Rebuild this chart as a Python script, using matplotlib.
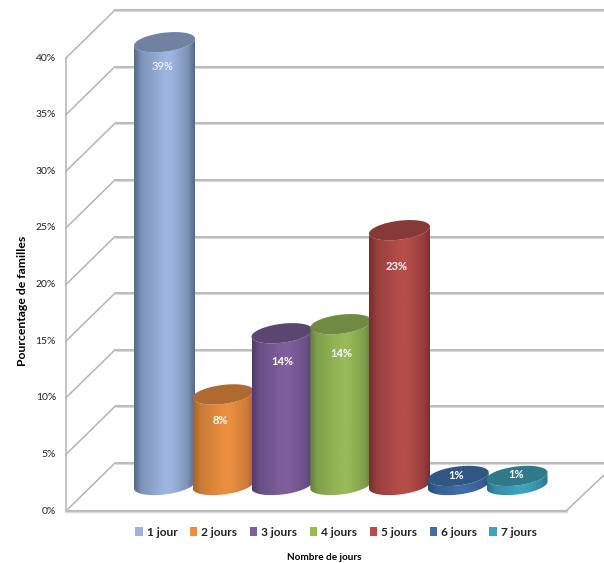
#!/usr/bin/env python3
# -*- coding: utf-8 -*-

import numpy as np
import matplotlib
matplotlib.use("Agg")
import matplotlib.pyplot as plt
from matplotlib.patches import Polygon, Rectangle

categories = ['1 jour', '2 jours', '3 jours', '4 jours', '5 jours', '6 jours', '7 jours']
values = [39.1, 8.0, 13.4, 14.2, 22.5, 0.8, 0.8]
value_labels = ['39%', '8%', '14%', '14%', '23%', '1%', '1%']
ticks = [0, 5, 10, 15, 20, 25, 30, 35, 40]

# colours: centre of the cylinder, shaded edge, top cap
centre_colors = ['#9DB5DE', '#EA8F40', '#7E5F9B', '#98B958', '#B64D4A', '#3F6DA8', '#3FA3BD']
edge_colors = ['#566A88', '#A4622C', '#4F3C69', '#64803A', '#722F2E', '#2A4B75', '#2A6F82']
top_colors = ['#6F82A2', '#AE6A31', '#5B4672', '#6F8A41', '#873938', '#305784', '#2E7A89']

# label placement relative to the cap centre, px
label_drop = [24, 26, 28, 29, 36, 0, -1]
label_shift = [-2, -3, 0, 1, -3, -2, -1]

W, H = 604, 563
PX_PER_PCT = 11.325
PX_PER_CAT = 58.75
X0 = 164.5      # centre of first cylinder, px
Y0 = 485.0      # centre of cylinder base, px
RX, RY, SHEAR = 30.5, 9.5, 3.5


def dx(px):
    return px / PX_PER_CAT


def dy(px):
    return px / PX_PER_PCT


def to_x(px):
    return (px - X0) / PX_PER_CAT


def to_y(px):
    return (Y0 - px) / PX_PER_PCT


def ellipse_pts(i, v, t):
    # tilted ellipse, the right side sits higher than the left
    x = i + dx(RX) * np.cos(t)
    y = v + dy(SHEAR) * np.cos(t) - dy(RY) * np.sin(t)
    return np.column_stack([x, y])


plt.rcParams['font.family'] = ['Lato', 'DejaVu Sans']

fig = plt.figure(figsize=(W / 100, H / 100), dpi=100)
fig.patch.set_facecolor('white')
ax = fig.add_axes([0, 0, 1, 1])
ax.axis('off')

# walls and floor
x_front, x_back = to_x(66), to_x(115)
front_drop, back_rise = dy(26), dy(22)
grid = '#B4B4B4'
for t in ticks:
    yf, yb = t - front_drop, t + back_rise
    ax.plot([x_front, x_back], [yf, yb], color=grid, lw=1.1, zorder=1)
    ax.plot([x_back, to_x(W)], [yb, yb], color='#DADADA', lw=2.2, zorder=1,
            solid_capstyle='butt')
    ax.plot([x_back, to_x(W)], [yb, yb], color=grid, lw=1.1, zorder=1,
            solid_capstyle='butt')
    ax.text(to_x(56), yf, f'{t}%', ha='right', va='center', fontsize=7.5,
            color='#222222')

yf0 = -front_drop
ax.plot([x_front, x_front], [yf0, 40 - front_drop], color=grid, lw=1.1, zorder=1)
ax.plot([x_front, to_x(566)], [yf0, yf0], color='#DADADA', lw=2.4, zorder=1)
ax.plot([x_front, to_x(566)], [yf0, yf0], color=grid, lw=1.1, zorder=1)
ax.plot([to_x(566), to_x(604)], [yf0, to_y(475)], color=grid, lw=1.1, zorder=1)

# cylinders
stops = [0.0, 0.12, 0.5, 0.62, 0.88, 1.0]
weights = [1.0, 0.45, 0.0, 0.0, 0.45, 1.0]
half = np.linspace(0, np.pi, 50)
for i, v in enumerate(values):
    bottom = ellipse_pts(i, 0, half)
    top = ellipse_pts(i, v, half[::-1])
    outline = np.vstack([bottom, top, bottom[:1]])
    body = Polygon(outline, closed=True, facecolor='none', edgecolor='none', zorder=3 + i)
    ax.add_patch(body)

    c = np.array(matplotlib.colors.to_rgb(centre_colors[i]))
    e = np.array(matplotlib.colors.to_rgb(edge_colors[i]))
    u = np.linspace(0, 1, 120)
    w = np.interp(u, stops, weights)[:, None]
    img = (c * (1 - w) + e * w)[None, :, :]
    im = ax.imshow(img, extent=[i - dx(RX), i + dx(RX), -dy(RY + SHEAR), v + dy(RY + SHEAR)],
                   aspect='auto', zorder=3 + i, interpolation='bilinear')
    im.set_clip_path(body)

    cap = ellipse_pts(i, v, np.linspace(0, 2 * np.pi, 100))
    ax.add_patch(Polygon(cap, closed=True, facecolor=top_colors[i], edgecolor='none',
                         zorder=3 + i))
    ax.text(i + dx(label_shift[i]), v - dy(label_drop[i]), value_labels[i], ha='center',
            va='center', fontsize=8, color='white',
            fontweight='bold' if i > 0 else 'normal', zorder=20)

ax.set_xlim(to_x(0), to_x(W))
ax.set_ylim(to_y(H), to_y(0))

# legend
handles = [Rectangle((0, 0), 1, 1, facecolor=c, edgecolor='none') for c in centre_colors]
ax.legend(handles, categories, loc='center', bbox_to_anchor=(336 / W, 1 - 532 / H), ncol=7,
          frameon=False, handlelength=0.6, handleheight=0.8, handletextpad=0.35,
          columnspacing=1.05, prop={'size': 8.6, 'weight': 'bold'}, labelcolor='#222222',
          borderpad=0, borderaxespad=0)

# axis titles
ax.text(to_x(23), to_y(301), 'Pourcentage de familles', rotation=90, ha='center', va='center',
        fontsize=8.8, fontweight='bold', color='black')
ax.text(to_x(324), to_y(558), 'Nombre de jours', ha='center', va='center',
        fontsize=7.2, fontweight='bold', color='black')

fig.savefig('out.png', dpi=100, facecolor='white')
plt.close(fig)
